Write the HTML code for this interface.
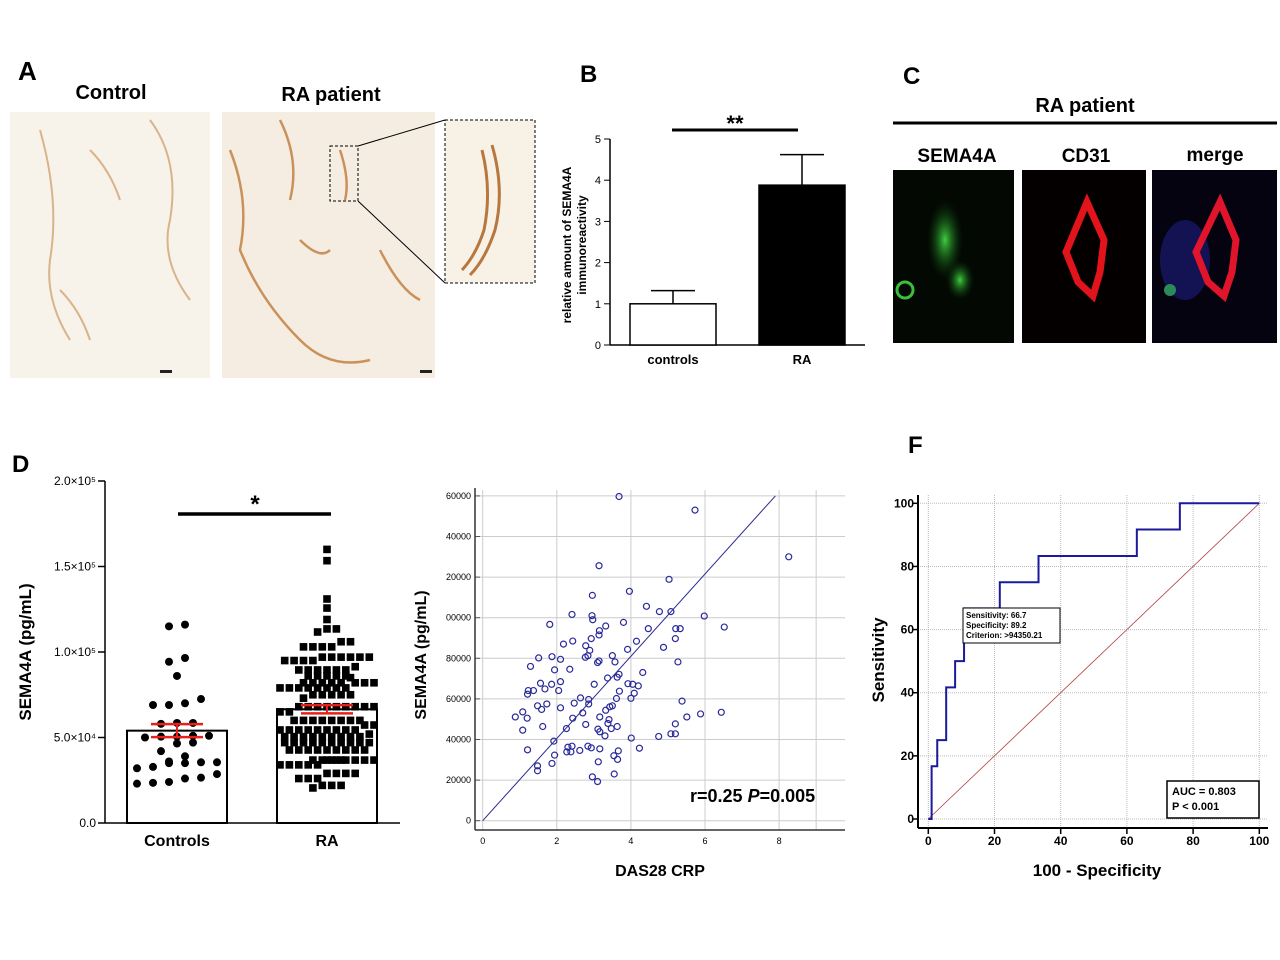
<!DOCTYPE html>
<html><head><meta charset="utf-8">
<style>
body{margin:0;background:#fff;font-family:"Liberation Sans",Arial,sans-serif;}
#root{position:relative;width:1280px;height:960px;overflow:hidden;}
</style></head>
<body>
<div id="root">
<svg id="svg" width="1280" height="960" xmlns="http://www.w3.org/2000/svg" style="position:absolute;left:0;top:0" font-family="Liberation Sans, Arial, sans-serif">
<defs>
<clipPath id="scClip"><rect x="446" y="470" width="420" height="380"/></clipPath>
<radialGradient id="gglow"><stop offset="0" stop-color="#3fcf3f"/><stop offset="1" stop-color="#0a3a0a" stop-opacity="0"/></radialGradient>
</defs>
<text x="18" y="80" font-size="26" font-weight="bold">A</text>
<text x="580" y="82" font-size="24" font-weight="bold">B</text>
<text x="903" y="84" font-size="24" font-weight="bold">C</text>
<text x="12" y="472" font-size="24" font-weight="bold">D</text>
<text x="908" y="453" font-size="24" font-weight="bold">F</text>

<text x="111" y="99" font-size="20" font-weight="bold" text-anchor="middle">Control</text>
<text x="331" y="101" font-size="20" font-weight="bold" text-anchor="middle">RA patient</text>
<g>
<rect x="10" y="112" width="200" height="266" fill="#f7f2ea"/>
<path d="M40 130 Q60 200 50 260 Q45 300 70 340 M90 150 Q110 170 120 200 M150 120 Q180 160 170 220 Q160 260 190 300 M60 290 Q80 310 90 340" stroke="#d9b38a" stroke-width="2" fill="none"/>
<rect x="160" y="370" width="12" height="3" fill="#222"/>
</g>
<g>
<rect x="222" y="112" width="213" height="266" fill="#f5ede2"/>
<path d="M230 150 Q250 200 240 250 Q260 300 300 340 Q330 370 370 360 M280 120 Q300 160 290 200 M340 150 Q350 180 345 200 M380 250 Q400 290 420 300 M300 240 Q320 260 330 250" stroke="#c9925a" stroke-width="2.5" fill="none"/>
<rect x="330" y="146" width="28" height="55" fill="none" stroke="#000" stroke-dasharray="3,2"/>
<rect x="420" y="370" width="12" height="3" fill="#222"/>
</g>
<line x1="358" y1="146" x2="445" y2="120" stroke="#000"/>
<line x1="358" y1="201" x2="445" y2="283" stroke="#000"/>
<g>
<rect x="445" y="120" width="90" height="163" fill="#f8f1e6" stroke="#000" stroke-dasharray="3,2"/>
<path d="M492 145 Q505 190 495 230 Q485 260 470 275 M482 150 Q492 190 484 230 Q476 255 462 270" stroke="#b7773f" stroke-width="3" fill="none"/>
</g>

<g id="panelB"></g>

<text x="1085" y="112" font-size="20" font-weight="bold" text-anchor="middle">RA patient</text>
<line x1="893" y1="123" x2="1277" y2="123" stroke="#000" stroke-width="3"/>
<text x="957" y="162" font-size="19" font-weight="bold" text-anchor="middle">SEMA4A</text>
<text x="1086" y="162" font-size="19" font-weight="bold" text-anchor="middle">CD31</text>
<text x="1215" y="161" font-size="19" font-weight="bold" text-anchor="middle">merge</text>
<g>
<rect x="893" y="170" width="121" height="173" fill="#030803"/>
<ellipse cx="945" cy="240" rx="18" ry="40" fill="url(#gglow)"/>
<ellipse cx="960" cy="280" rx="14" ry="20" fill="url(#gglow)"/>
<circle cx="905" cy="290" r="8" fill="none" stroke="#3bbf3b" stroke-width="3"/>
</g>
<g>
<rect x="1022" y="170" width="124" height="173" fill="#050000"/>
<path d="M1087 202 L1104 240 L1100 272 L1093 296 L1078 282 L1066 252 Z" fill="none" stroke="#e0141a" stroke-width="7"/>
</g>
<g>
<rect x="1152" y="170" width="125" height="173" fill="#050310"/>
<ellipse cx="1185" cy="260" rx="25" ry="40" fill="#1a1a70" opacity="0.7"/>
<path d="M1220 202 L1236 240 L1232 272 L1224 296 L1208 282 L1196 252 Z" fill="none" stroke="#e0142a" stroke-width="7"/>
<circle cx="1170" cy="290" r="6" fill="#2a8a5a"/>
</g>

<g id="panelD"></g>
<g id="panelE"></g>
<g id="panelF"></g>
</svg>
</div>
<script>
const NS="http://www.w3.org/2000/svg";
function mk(parent,tag,attrs,text){const e=document.createElementNS(NS,tag);for(const k in attrs)e.setAttribute(k,attrs[k]);if(text!==undefined)e.textContent=text;parent.appendChild(e);return e;}

const bCategories=["controls","RA"];
const bValues=[1.0,3.88];
const bErrors=[0.32,0.74];
const bTicks=[0,1,2,3,4,5];

const dCategories=["Controls","RA"];
const dControls=[115,116,96.5,94.3,86,72.5,69,69,70,58.5,58,58.5,50.5,50,51,50.5,51,47,46.5,42,39,35.5,35,36,35.5,35,32.8,32,28.6,26,26.5,23.5,23,24];
const dRA=[160,153.4,131,125.7,119,113.5,113.5,111.7,106,106,103,103,103,103,97,97,97,97,97,97,95,95,95,95,91.4,89.5,89.5,89.5,89.5,89.5,89.5,86,86,86,86,86,85,82,82,82,82,82,82,82,82,79,79,79,79,79,79,79,79,75,75,75,75,75,73,68,68,68,68,68,68,68,68,68,65,65,60,60,60,60,60,60,60,60,57.3,57.3,54.4,54.4,54.4,54.4,54.4,54.4,54.4,54.4,54.4,52,50.5,50.5,50.5,50.5,50.5,50.5,50.5,50.5,50.5,47,47,47,47,47,47,47,47,47,47,42.7,42.7,42.7,42.7,42.7,42.7,42.7,42.7,42.7,36.8,36.8,36.8,36.8,36.8,36.8,36.8,36.8,36.8,36.8,34,34,34,34,34,29,29,29,29,26,26,26,22,22,22,20.5];
const dMeans=[54,66.5];
const dSEM=[3.8,2.4];
const dTickLabels=["0.0","5.0×10⁴","1.0×10⁵","1.5×10⁵","2.0×10⁵"];
const dTickValues=[0,50,100,150,200];

const scX=[3.68,5.73,8.26,3.14,5.03,3.96,2.96,4.42,4.77,5.08,2.41,2.95,2.97,5.98,1.81,3.80,3.32,3.15,4.47,5.21,5.33,6.52,3.14,2.93,5.2,2.43,2.18,4.15,2.78,2.89,3.91,4.88,1.51,1.87,2.1,2.77,2.84,3.5,3.1,3.14,3.57,5.27,1.29,1.94,2.35,4.32,3.68,3.63,3.37,1.56,1.86,2.1,3.01,3.92,4.05,4.2,1.68,2.05,1.23,1.37,1.21,3.69,4.09,2.64,2.86,2.86,2.47,4.0,3.61,5.38,1.73,1.48,1.59,2.1,1.08,0.88,1.2,2.7,3.32,3.43,3.5,2.43,3.16,3.41,5.51,5.88,6.44,3.38,5.2,2.78,3.63,1.62,2.26,1.08,3.11,3.47,3.16,3.3,5.08,5.2,4.75,4.01,1.92,2.3,2.41,2.84,2.93,3.16,4.23,1.21,2.27,2.38,2.62,3.66,3.54,3.64,1.94,3.12,1.87,1.48,1.48,2.96,3.1,3.55];
const scY=[159.7,153,130,125.6,118.9,113,111,105.6,103,103,101.6,101,99,100.8,96.7,97.7,95.9,93.6,94.6,94.6,94.6,95.4,91.5,89.7,89.7,88.5,87,88.4,86.2,83.9,84.4,85.4,80.2,80.8,79.5,80.5,81.3,81.3,77.9,78.7,78.2,78.2,76,74.3,74.6,73,72.1,70.7,70.3,67.7,67.2,68.5,67.2,67.5,67.2,66.4,64.9,64.1,64.1,64.1,62.3,63.8,62.8,60.5,59.7,57.5,57.9,60.3,60.2,58.9,57.5,56.6,54.8,55.6,53.6,51.1,50.5,53.1,54.4,56.1,56.6,50.5,51.1,49.8,51.1,52.6,53.4,47.9,47.7,47.4,46.4,46.4,45.4,44.6,45.1,45.4,43.8,41.8,42.8,42.8,41.5,40.7,39.2,36.2,36.7,36.7,35.9,35.4,35.7,34.9,33.9,33.9,34.6,34.4,32,30.2,32.3,29,28.2,27,24.6,21.6,19.3,23];
const scXTicks=[0,2,4,6,8];
const scYTicks=[0,20,40,60,80,100,120,140,160];
const scFit=[[0,0],[7.9,160]];

const rocFPR=[0,1,1,2.7,2.7,5.4,5.4,8.1,8.1,10.8,10.8,21.6,21.6,33.3,33.3,63,63,76,76,100];
const rocTPR=[0,0,16.7,16.7,25,25,41.7,41.7,50,50,66.7,66.7,75,75,83.3,83.3,91.7,91.7,100,100];
const rocTicks=[0,20,40,60,80,100];

(function(){
const g=document.getElementById('panelB');
const y=v=>345-v*41.2;
const xs=[673,802];
mk(g,'line',{x1:610,y1:139,x2:610,y2:345,stroke:'#000','stroke-width':1.5});
mk(g,'line',{x1:610,y1:345,x2:865,y2:345,stroke:'#000','stroke-width':1.5});
bTicks.forEach(t=>{mk(g,'line',{x1:604,y1:y(t),x2:610,y2:y(t),stroke:'#000'});
const tl=mk(g,'text',{x:601,y:y(t)+4,'font-size':11,'text-anchor':'end'},t);
});
bCategories.forEach((c,i)=>{
 const top=y(bValues[i]);
 mk(g,'line',{x1:xs[i],y1:y(bValues[i]+bErrors[i]),x2:xs[i],y2:top,stroke:'#000','stroke-width':1.5});
 mk(g,'line',{x1:xs[i]-22,y1:y(bValues[i]+bErrors[i]),x2:xs[i]+22,y2:y(bValues[i]+bErrors[i]),stroke:'#000','stroke-width':1.5});
 const b=mk(g,'rect',{x:xs[i]-43,y:top,width:86,height:345-top,fill:i?'#000':'#fff',stroke:'#000','stroke-width':1.5});
 
 const l=mk(g,'text',{x:xs[i],y:364,'font-size':13,'font-weight':'bold','text-anchor':'middle'},c);
 
});
mk(g,'line',{x1:672,y1:130,x2:798,y2:130,stroke:'#000','stroke-width':3});
mk(g,'text',{x:735,y:131,'font-size':22,'font-weight':'bold','text-anchor':'middle'},'**');
const t=mk(g,'text',{transform:'translate(571,245) rotate(-90)','font-size':12,'font-weight':'bold','text-anchor':'middle'},'relative amount of  SEMA4A');
const t2=mk(g,'text',{transform:'translate(586,245) rotate(-90)','font-size':12,'font-weight':'bold','text-anchor':'middle'},'immunoreactivity');

})();

(function(){
const g=document.getElementById('panelD');
const y=v=>823-v*1.71;
const xs=[177,327];
mk(g,'line',{x1:105,y1:481,x2:105,y2:823,stroke:'#000','stroke-width':1.5});
mk(g,'line',{x1:105,y1:823,x2:400,y2:823,stroke:'#000','stroke-width':1.5});
dTickValues.forEach((t,i)=>{mk(g,'line',{x1:98,y1:y(t),x2:105,y2:y(t),stroke:'#000','stroke-width':1.5});
const tl=mk(g,'text',{x:96,y:y(t)+4,'font-size':12,'text-anchor':'end'},dTickLabels[i]);
});
[0,1].forEach(i=>{
 const top=y(dMeans[i]);
 const b=mk(g,'rect',{x:xs[i]-50,y:top,width:100,height:823-top,fill:'#fff',stroke:'#000','stroke-width':2});
 
 const l=mk(g,'text',{x:xs[i],y:846,'font-size':16,'font-weight':'bold','text-anchor':'middle'},dCategories[i]);
 
});
// row-based swarm: group equal/near values into rows, center each row, stagger odd rows
function swarm(vals,cx,size,maxW){
 const pts=[];const sorted=vals.slice().sort((a,b)=>a-b);
 const rows=[];
 sorted.forEach(v=>{const last=rows[rows.length-1];
  if(last&&Math.abs(y(v)-y(last[0]))<size*0.6&&last.length*size<maxW)last.push(v);else rows.push([v]);});
 rows.forEach(r=>{const n=r.length;r.forEach((v,k)=>{pts.push([cx+(k-(n-1)/2)*size,y(v)]);});});
 return pts;}
swarm(dControls,xs[0],16,90).forEach(p=>{const c=mk(g,'circle',{cx:p[0],cy:p[1],r:4,fill:'#000'});
});
swarm(dRA,xs[1],9.4,95).forEach(p=>{const c=mk(g,'rect',{x:p[0]-3.8,y:p[1]-3.8,width:7.6,height:7.6,fill:'#000'});
});
[0,1].forEach(i=>{
 const a=y(dMeans[i]+dSEM[i]),b=y(dMeans[i]-dSEM[i]);
 mk(g,'line',{x1:xs[i],y1:a,x2:xs[i],y2:b,stroke:'#e8201a','stroke-width':2});
 mk(g,'line',{x1:xs[i]-26,y1:a,x2:xs[i]+26,y2:a,stroke:'#e8201a','stroke-width':2.5});
 mk(g,'line',{x1:xs[i]-26,y1:b,x2:xs[i]+26,y2:b,stroke:'#e8201a','stroke-width':2.5});
});
mk(g,'line',{x1:178,y1:514,x2:331,y2:514,stroke:'#000','stroke-width':3.5});
mk(g,'text',{x:255,y:512,'font-size':24,'font-weight':'bold','text-anchor':'middle'},'*');
const t=mk(g,'text',{transform:'translate(31,652) rotate(-90)','font-size':17,'font-weight':'bold','text-anchor':'middle'},'SEMA4A (pg/mL)');

})();

(function(){
const g=document.getElementById('panelE');
const x=v=>482.7+v*37.05;
const y=v=>820.7-v*2.03;
const cg=mk(g,'g',{'clip-path':'url(#scClip)'});
scYTicks.forEach(t=>{mk(cg,'line',{x1:475,y1:y(t),x2:845,y2:y(t),stroke:'#ccc','stroke-width':1});
mk(cg,'line',{x1:475,y1:y(t),x2:480,y2:y(t),stroke:'#555'});
const tl=mk(cg,'text',{x:471,y:y(t)+3,'font-size':9,'text-anchor':'end'},t===0?'0':(t*1000).toString());
});
scXTicks.forEach(t=>{mk(g,'line',{x1:x(t),y1:490,x2:x(t),y2:830,stroke:'#ccc'});
const tl=mk(g,'text',{x:x(t),y:844,'font-size':9,'text-anchor':'middle'},t);
});
mk(g,'line',{x1:x(9),y1:490,x2:x(9),y2:830,stroke:'#ccc'});
mk(g,'line',{x1:475,y1:488,x2:475,y2:830,stroke:'#333','stroke-width':1.5});
mk(g,'line',{x1:475,y1:830,x2:845,y2:830,stroke:'#333','stroke-width':1.5});
const f=mk(g,'line',{x1:x(scFit[0][0]),y1:y(scFit[0][1]),x2:x(scFit[1][0]),y2:y(scFit[1][1]),stroke:'#2a2a90','stroke-width':1});

scX.forEach((v,i)=>{const c=mk(g,'circle',{cx:x(v),cy:y(scY[i]),r:3,fill:'none',stroke:'#2a2a9a','stroke-width':1.2});
});
const r=mk(g,'text',{x:690,y:802,'font-size':18,'font-weight':'bold'});
r.innerHTML='r=0.25 <tspan font-style="italic">P</tspan>=0.005';

const xt=mk(g,'text',{x:660,y:876,'font-size':16,'font-weight':'bold','text-anchor':'middle'},'DAS28 CRP');

const yt=mk(g,'text',{transform:'translate(426,655) rotate(-90)','font-size':16,'font-weight':'bold','text-anchor':'middle'},'SEMA4A (pg/mL)');

})();

(function(){
const g=document.getElementById('panelF');
const x=v=>928.3+v*3.31;
const y=v=>819-v*3.157;
rocTicks.forEach(t=>{
 mk(g,'line',{x1:918,y1:y(t),x2:1268,y2:y(t),stroke:'#bbb','stroke-dasharray':'1,1'});
 mk(g,'line',{x1:x(t),y1:495,x2:x(t),y2:828,stroke:'#bbb','stroke-dasharray':'1,1'});
 mk(g,'line',{x1:912,y1:y(t),x2:918,y2:y(t),stroke:'#000','stroke-width':1.5});
 mk(g,'line',{x1:x(t),y1:828,x2:x(t),y2:834,stroke:'#000','stroke-width':1.5});
 const a=mk(g,'text',{x:914,y:y(t)+4,'font-size':12,'font-weight':'bold','text-anchor':'end'},t);
 
 const b=mk(g,'text',{x:x(t),y:845,'font-size':12,'font-weight':'bold','text-anchor':'middle'},t);
 
});
mk(g,'line',{x1:918,y1:495,x2:918,y2:828,stroke:'#000','stroke-width':2});
mk(g,'line',{x1:918,y1:828,x2:1268,y2:828,stroke:'#000','stroke-width':2});
const d=mk(g,'line',{x1:x(0),y1:y(0),x2:x(100),y2:y(100),stroke:'#b04040','stroke-width':0.8});

const pts=rocFPR.map((v,i)=>x(v)+','+y(rocTPR[i])).join(' ');
const p=mk(g,'polyline',{points:pts,fill:'none',stroke:'#1a1a9a','stroke-width':2});

const box=mk(g,'g',{});

mk(box,'rect',{x:963,y:608,width:97,height:35,fill:'#fff',stroke:'#000'});
mk(box,'text',{x:966,y:618,'font-size':8,'font-weight':'bold'},'Sensitivity: 66.7');
mk(box,'text',{x:966,y:628,'font-size':8,'font-weight':'bold'},'Specificity: 89.2');
mk(box,'text',{x:966,y:638,'font-size':8,'font-weight':'bold'},'Criterion: >94350.21');
const ab=mk(g,'g',{});

mk(ab,'rect',{x:1167,y:781,width:92,height:37,fill:'#fff',stroke:'#000','stroke-width':1.5});
mk(ab,'text',{x:1172,y:795,'font-size':11,'font-weight':'bold'},'AUC = 0.803');
mk(ab,'text',{x:1172,y:810,'font-size':11,'font-weight':'bold'},'P < 0.001');
const xt=mk(g,'text',{x:1097,y:876,'font-size':17,'font-weight':'bold','text-anchor':'middle'},'100 - Specificity');

const yt=mk(g,'text',{transform:'translate(884,660) rotate(-90)','font-size':17,'font-weight':'bold','text-anchor':'middle'},'Sensitivity');

})();
</script>
</body></html>
